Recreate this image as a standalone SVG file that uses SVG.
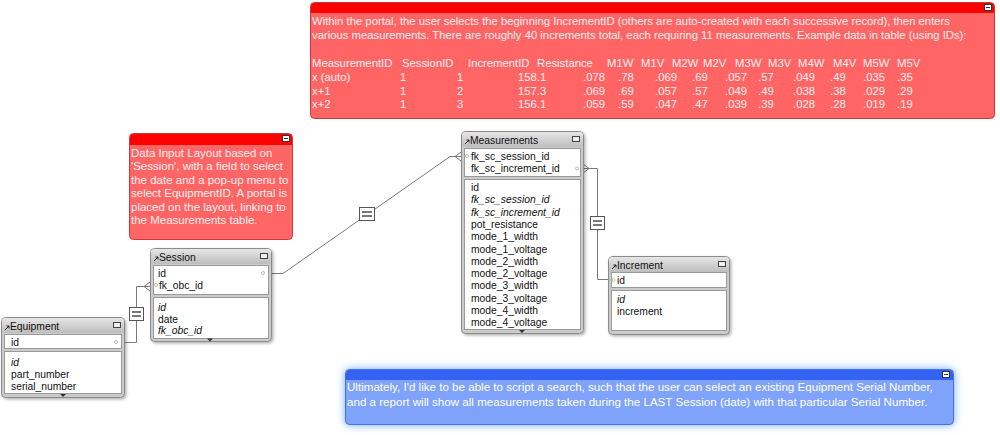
<svg xmlns="http://www.w3.org/2000/svg" width="1000" height="435" viewBox="0 0 1000 435">
<defs>
<linearGradient id="hdr" x1="0" y1="0" x2="0" y2="1"><stop offset="0" stop-color="#e6e6e6"/><stop offset="1" stop-color="#bdbdbd"/></linearGradient>
<filter id="sh" x="-10%" y="-10%" width="130%" height="130%"><feDropShadow dx="1.5" dy="1.5" stdDeviation="1.5" flood-color="#000" flood-opacity="0.3"/></filter>
<filter id="glow" x="-5%" y="-40%" width="110%" height="180%"><feDropShadow dx="0" dy="0" stdDeviation="4" flood-color="#5aa0ff" flood-opacity="0.9"/></filter>
<style>
.t{font-family:"Liberation Sans",Arial,sans-serif;font-size:10.3px;fill:#111}
.i{font-style:italic}
.frame{fill:#cbcbcb;stroke:#8a8a8a;stroke-width:1}
.hd{fill:url(#hdr)}
.box{fill:#fff;stroke:#9a9a9a;stroke-width:1}
.ar{fill:none;stroke:#222;stroke-width:1}
.ic{fill:#e8e8e8;stroke:#444;stroke-width:1}
.sc{fill:#333}
.n{font-family:"Liberation Sans",Arial,sans-serif;font-size:11.5px;fill:#fff0f0}
.nt{font-size:11.3px}
.nb{font-family:"Liberation Sans",Arial,sans-serif;font-size:11.6px;fill:#ffffff}
.conn{fill:none;stroke:#7a7a7a;stroke-width:1}
.eq{fill:#fff;stroke:#555;stroke-width:1}
.eql{stroke:#222;stroke-width:1.2}
.dot{fill:#fff;stroke:#aaa;stroke-width:0.8}
.rednote{fill:#ff6565;stroke:#c83a3a;stroke-width:1}
.redhd{fill:#ff0000}
.nic{fill:#fff;stroke:#333;stroke-width:1}
</style>
</defs>

<!-- notes -->
<g id="note-top">
<rect class="rednote" x="310.5" y="2.5" width="684" height="116" rx="4"/>
<path class="redhd" d="M311,13 V7 Q311,3 315,3 H990 Q994,3 994,7 V13 Z"/>
<rect class="nic" x="984.5" y="4.5" width="7" height="6"/><line x1="986" y1="7.5" x2="990" y2="7.5" stroke="#333"/>
<text class="n nt" x="312" y="24.5">Within the portal, the user selects the beginning IncrementID (others are auto-created with each successive record), then enters</text>
<text class="n nt" x="312" y="38.5">various measurements. There are roughly 40 increments total, each requiring 11 measurements. Example data in table (using IDs):</text>
<g class="n nt">
<text x="312" y="67">MeasurementID</text><text x="402" y="67">SessionID</text><text x="468" y="67">IncrementID</text><text x="537" y="67">Resistance</text>
<text x="607" y="67">M1W</text><text x="641" y="67">M1V</text><text x="672" y="67">M2W</text><text x="703" y="67">M2V</text><text x="735" y="67">M3W</text><text x="768" y="67">M3V</text><text x="798" y="67">M4W</text><text x="833" y="67">M4V</text><text x="863" y="67">M5W</text><text x="897" y="67">M5V</text>
<text x="312" y="81">x (auto)</text><text x="400" y="81">1</text><text x="457" y="81">1</text><text x="518" y="81">158.1</text>
<text x="583" y="81">.078</text><text x="618" y="81">.78</text><text x="655" y="81">.069</text><text x="692" y="81">.69</text><text x="725" y="81">.057</text><text x="758" y="81">.57</text><text x="793" y="81">.049</text><text x="830" y="81">.49</text><text x="863" y="81">.035</text><text x="897" y="81">.35</text>
<text x="312" y="94.5">x+1</text><text x="400" y="94.5">1</text><text x="457" y="94.5">2</text><text x="518" y="94.5">157.3</text>
<text x="583" y="94.5">.069</text><text x="618" y="94.5">.69</text><text x="655" y="94.5">.057</text><text x="692" y="94.5">.57</text><text x="725" y="94.5">.049</text><text x="758" y="94.5">.49</text><text x="793" y="94.5">.038</text><text x="830" y="94.5">.38</text><text x="863" y="94.5">.029</text><text x="897" y="94.5">.29</text>
<text x="312" y="108">x+2</text><text x="400" y="108">1</text><text x="457" y="108">3</text><text x="518" y="108">156.1</text>
<text x="583" y="108">.059</text><text x="618" y="108">.59</text><text x="655" y="108">.047</text><text x="692" y="108">.47</text><text x="725" y="108">.039</text><text x="758" y="108">.39</text><text x="793" y="108">.028</text><text x="830" y="108">.28</text><text x="863" y="108">.019</text><text x="897" y="108">.19</text>
</g>
</g>

<g id="note-left">
<rect class="rednote" x="129.5" y="133.5" width="163" height="106" rx="4"/>
<path class="redhd" d="M130,145 V138 Q130,134 134,134 H288 Q292,134 292,138 V145 Z"/>
<rect class="nic" x="282.5" y="135.5" width="7" height="6"/><line x1="284" y1="138.5" x2="288" y2="138.5" stroke="#333"/>
<g class="n">
<text x="131" y="156.5">Data Input Layout based on</text>
<text x="131" y="170">'Session', with a field to select</text>
<text x="131" y="183.5">the date and a pop-up menu to</text>
<text x="131" y="197">select EquipmentID. A portal is</text>
<text x="131" y="210.5">placed on the layout, linking to</text>
<text x="131" y="224">the Measurements table.</text>
</g>
</g>

<g id="note-bottom">
<rect x="345.5" y="369.5" width="608" height="55" rx="4" fill="#7fa3fb" stroke="#4a6fe0" filter="url(#glow)"/>
<path d="M346,380 V374 Q346,370 350,370 H949 Q953,370 953,374 V380 Z" fill="#3462f2"/>
<rect class="nic" x="942.5" y="371.5" width="7" height="6"/><line x1="944" y1="374.5" x2="948" y2="374.5" stroke="#333"/>
<text class="nb" x="347" y="391">Ultimately, I'd like to be able to script a search, such that the user can select an existing Equipment Serial Number,</text>
<text class="nb" x="347" y="406">and a report will show all measurements taken during the LAST Session (date) with that particular Serial Number.</text>
</g>

<!-- connectors -->
<g id="connectors">
<path class="conn" d="M124.5,342.5 H136.5 V286.5 H144 M144,286.5 L150,282 M144,286.5 H150 M144,286.5 L150,291"/>
<rect class="eq" x="129.5" y="307.5" width="14" height="13"/>
<line class="eql" x1="132" y1="312" x2="141" y2="312"/><line class="eql" x1="132" y1="316" x2="141" y2="316"/>
<path class="conn" d="M271,273.5 H283 L450,156.5 H455 M455,156.5 L461,152 M455,156.5 H461 M455,156.5 L461,161"/>
<rect class="eq" x="359.5" y="207.5" width="15" height="13"/>
<line class="eql" x1="362" y1="212" x2="372" y2="212"/><line class="eql" x1="362" y1="216" x2="372" y2="216"/>
<path class="conn" d="M583,164 L589,168.5 M583,168.5 H589 M583,173 L589,168.5 M589,168.5 H597.5 V279.5 H608"/>
<rect class="eq" x="590.5" y="216.5" width="14" height="13"/>
<line class="eql" x1="593" y1="221" x2="602" y2="221"/><line class="eql" x1="593" y1="225" x2="602" y2="225"/>
</g>

<!-- tables -->
<g id="equipment">
<rect class="frame" x="1.5" y="317.5" width="123" height="80" rx="4" filter="url(#sh)"/>
<rect class="hd" x="2" y="318" width="122" height="15" rx="3"/>
<path class="ar" d="M5,330 L9,326 M6.5,326 H9 V328.5"/>
<text class="t" x="10" y="330">Equipment</text>
<rect class="ic" x="113.5" y="322.5" width="7" height="5"/><line x1="115" y1="325" x2="119" y2="325" stroke="#fff"/>
<rect class="box" x="4.5" y="334.5" width="117" height="14"/>
<text class="t" x="11" y="345.5">id</text>
<circle class="dot" cx="116" cy="342" r="1.5"/>
<rect class="box" x="4.5" y="351.5" width="117" height="42"/>
<text class="t i" x="11" y="366">id</text>
<text class="t" x="11" y="378">part_number</text>
<text class="t" x="11" y="390">serial_number</text>
<path class="sc" d="M60,394 H66 L63,397 Z"/>
</g>

<g id="session">
<rect class="frame" x="150.5" y="248.5" width="121" height="93" rx="4" filter="url(#sh)"/>
<rect class="hd" x="151" y="249" width="120" height="15" rx="3"/>
<path class="ar" d="M154,261 L158,257 M155.5,257 H158 V259.5"/>
<text class="t" x="159" y="261">Session</text>
<rect class="ic" x="260.5" y="253.5" width="7" height="5"/><line x1="262" y1="256" x2="266" y2="256" stroke="#fff"/>
<rect class="box" x="153.5" y="265.5" width="115" height="29"/>
<text class="t" x="158" y="276.5">id</text>
<circle class="dot" cx="263" cy="273" r="1.5"/>
<circle class="dot" cx="156" cy="285" r="1.5"/>
<text class="t" x="159" y="288.5">fk_obc_id</text>
<rect class="box" x="153.5" y="297.5" width="115" height="41"/>
<text class="t i" x="158" y="311">id</text>
<text class="t" x="158" y="322.5">date</text>
<text class="t i" x="158" y="334">fk_obc_id</text>
<path class="sc" d="M207,338.5 H213 L210,341.5 Z"/>
</g>

<g id="measurements">
<rect class="frame" x="461.5" y="131.5" width="122" height="202" rx="4" filter="url(#sh)"/>
<rect class="hd" x="462" y="132" width="121" height="15" rx="3"/>
<path class="ar" d="M465,144 L469,140 M466.5,140 H469 V142.5"/>
<text class="t" x="470" y="144">Measurements</text>
<rect class="ic" x="572.5" y="136.5" width="7" height="5"/><line x1="574" y1="139" x2="578" y2="139" stroke="#fff"/>
<rect class="box" x="464.5" y="148.5" width="116" height="28"/>
<circle class="dot" cx="467" cy="156" r="1.5"/>
<text class="t" x="471" y="159.5">fk_sc_session_id</text>
<text class="t" x="471" y="172">fk_sc_increment_id</text>
<circle class="dot" cx="577" cy="168.5" r="1.5"/>
<rect class="box" x="464.5" y="179.5" width="116" height="150"/>
<text class="t" x="471" y="191">id</text>
<text class="t i" x="471" y="203.3">fk_sc_session_id</text>
<text class="t i" x="471" y="215.6">fk_sc_increment_id</text>
<text class="t" x="471" y="227.9">pot_resistance</text>
<text class="t" x="471" y="240.2">mode_1_width</text>
<text class="t" x="471" y="252.5">mode_1_voltage</text>
<text class="t" x="471" y="264.8">mode_2_width</text>
<text class="t" x="471" y="277.1">mode_2_voltage</text>
<text class="t" x="471" y="289.4">mode_3_width</text>
<text class="t" x="471" y="301.7">mode_3_voltage</text>
<text class="t" x="471" y="314">mode_4_width</text>
<text class="t" x="471" y="326.3">mode_4_voltage</text>
<path class="sc" d="M519,330 H525 L522,333 Z"/>
</g>

<g id="increment">
<rect class="frame" x="608.5" y="256.5" width="121" height="78" rx="4" filter="url(#sh)"/>
<rect class="hd" x="609" y="257" width="120" height="15" rx="3"/>
<path class="ar" d="M612,269 L616,265 M613.5,265 H616 V267.5"/>
<text class="t" x="617" y="269">Increment</text>
<rect class="ic" x="718.5" y="261.5" width="7" height="5"/><line x1="720" y1="264" x2="724" y2="264" stroke="#fff"/>
<rect class="box" x="611.5" y="272.5" width="115" height="15"/>
<circle class="dot" cx="613.5" cy="280" r="1.5"/>
<text class="t" x="617" y="284">id</text>
<rect class="box" x="611.5" y="290.5" width="115" height="40"/>
<text class="t i" x="617" y="303">id</text>
<text class="t" x="617" y="315">increment</text>
</g>
</svg>
